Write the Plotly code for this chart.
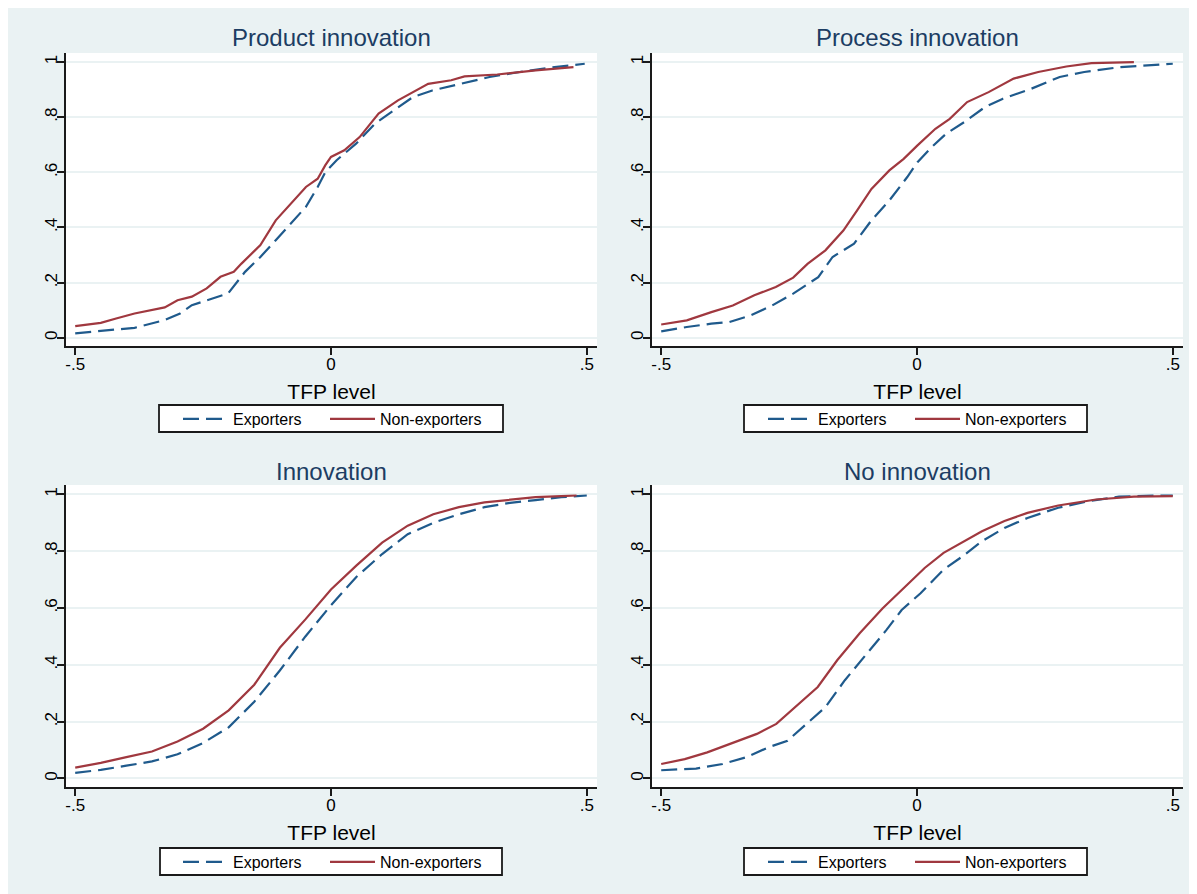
import plotly.graph_objects as go

W, H = 1197, 894

panel_titles = ["Product innovation", "Process innovation", "Innovation", "No innovation"]
series_names = ["Exporters", "Non-exporters"]
x_axis_title = "TFP level"
x_tick_vals = [-0.5, 0, 0.5]
x_tick_text = ["-.5", "0", ".5"]
y_tick_vals = [0, 0.2, 0.4, 0.6, 0.8, 1]
y_tick_text = ["0", ".2", ".4", ".6", ".8", "1"]

# ---- Product innovation ----
prod_exp_x = [-0.5, -0.42, -0.384, -0.325, -0.295, -0.272, -0.228, -0.201, -0.168, -0.138, -0.108,
              -0.078, -0.049, -0.026, -0.011, 0.011, 0.049, 0.086, 0.123, 0.16, 0.198, 0.25, 0.31,
              0.369, 0.437, 0.496]
prod_exp_y = [0.016, 0.028, 0.036, 0.064, 0.088, 0.118, 0.143, 0.161, 0.239, 0.293, 0.354,
              0.414, 0.475, 0.547, 0.601, 0.644, 0.704, 0.777, 0.825, 0.873, 0.897, 0.921, 0.946,
              0.964, 0.982, 0.994]
prod_non_x = [-0.5, -0.45, -0.42, -0.384, -0.325, -0.30, -0.272, -0.243, -0.216, -0.19, -0.175,
              -0.138, -0.108, -0.078, -0.049, -0.026, -0.011, 0.0, 0.026, 0.056, 0.093, 0.131,
              0.16, 0.19, 0.235, 0.261, 0.325, 0.40, 0.474]
prod_non_y = [0.042, 0.054, 0.07, 0.088, 0.11, 0.136, 0.149, 0.179, 0.221, 0.239, 0.269,
              0.336, 0.426, 0.487, 0.547, 0.577, 0.626, 0.656, 0.68, 0.728, 0.813, 0.861,
              0.891, 0.921, 0.934, 0.948, 0.955, 0.97, 0.982]

# ---- Process innovation ----
proc_exp_x = [-0.5, -0.45, -0.402, -0.367, -0.325, -0.283, -0.242, -0.193, -0.165, -0.123, -0.089,
              -0.054, -0.019, 0.001, 0.029, 0.057, 0.092, 0.133, 0.168, 0.223, 0.279, 0.327,
              0.397, 0.5]
proc_exp_y = [0.023, 0.039, 0.051, 0.057, 0.081, 0.117, 0.16, 0.22, 0.293, 0.341, 0.426,
              0.498, 0.583, 0.637, 0.692, 0.74, 0.782, 0.837, 0.867, 0.903, 0.946, 0.964,
              0.982, 0.994]
proc_non_x = [-0.5, -0.45, -0.402, -0.36, -0.318, -0.276, -0.242, -0.214, -0.179, -0.144, -0.117,
              -0.089, -0.054, -0.026, 0.001, 0.036, 0.064, 0.098, 0.14, 0.189, 0.237, 0.292,
              0.341, 0.424]
proc_non_y = [0.048, 0.063, 0.093, 0.117, 0.154, 0.184, 0.218, 0.268, 0.317, 0.389, 0.462,
              0.54, 0.607, 0.649, 0.698, 0.758, 0.794, 0.855, 0.891, 0.94, 0.964, 0.984,
              0.996, 1.0]

# ---- Innovation ----
inno_exp_x = [-0.5, -0.45, -0.4, -0.35, -0.3, -0.25, -0.2, -0.15, -0.1, -0.05, 0.0,
              0.05, 0.1, 0.15, 0.2, 0.25, 0.3, 0.35, 0.4, 0.45, 0.5]
inno_exp_y = [0.02, 0.03, 0.045, 0.06, 0.085, 0.125, 0.18, 0.27, 0.38, 0.5, 0.61,
              0.71, 0.79, 0.86, 0.9, 0.93, 0.955, 0.97, 0.98, 0.99, 0.996]
inno_non_x = [-0.5, -0.45, -0.4, -0.35, -0.3, -0.25, -0.2, -0.15, -0.1, -0.05, 0.0,
              0.05, 0.1, 0.15, 0.2, 0.25, 0.3, 0.35, 0.4, 0.45, 0.48]
inno_non_y = [0.038, 0.055, 0.075, 0.095, 0.13, 0.175, 0.24, 0.33, 0.46, 0.56, 0.665,
              0.75, 0.83, 0.89, 0.93, 0.955, 0.972, 0.982, 0.99, 0.994, 0.996]

# ---- No innovation ----
noin_exp_x = [-0.5, -0.432, -0.38, -0.335, -0.29, -0.253, -0.216, -0.179, -0.141, -0.097, -0.06,
              -0.03, 0.007, 0.052, 0.089, 0.127, 0.171, 0.216, 0.276, 0.335, 0.395, 0.462, 0.5]
noin_exp_y = [0.029, 0.035, 0.051, 0.074, 0.11, 0.133, 0.192, 0.251, 0.346, 0.44, 0.522,
              0.593, 0.652, 0.735, 0.782, 0.835, 0.882, 0.917, 0.953, 0.976, 0.992, 0.996, 0.996]
noin_non_x = [-0.5, -0.454, -0.41, -0.357, -0.313, -0.275, -0.231, -0.194, -0.156, -0.112, -0.067,
              -0.022, 0.015, 0.052, 0.097, 0.127, 0.171, 0.216, 0.276, 0.35, 0.424, 0.5]
noin_non_y = [0.051, 0.068, 0.092, 0.127, 0.157, 0.192, 0.263, 0.322, 0.416, 0.511, 0.599,
              0.676, 0.741, 0.794, 0.841, 0.87, 0.906, 0.935, 0.961, 0.982, 0.992, 0.994]

panels_data = [
    (prod_exp_x, prod_exp_y, prod_non_x, prod_non_y),
    (proc_exp_x, proc_exp_y, proc_non_x, proc_non_y),
    (inno_exp_x, inno_exp_y, inno_non_x, inno_non_y),
    (noin_exp_x, noin_exp_y, noin_non_x, noin_non_y),
]

# ---- layout geometry (figure pixels) ----
boxes = [(58, 589, 45, 338), (644, 1175, 45, 338), (58, 589, 477, 779), (644, 1175, 477, 779)]
title_y = [30, 30, 463, 463]
legend_frames = [(151, 495, 397, 424), (736, 1079, 397, 424), (152, 494, 840, 867), (736, 1079, 840, 867)]
legend_left = [170, 755, 170, 755]
legend_top = [394, 394, 837, 837]

BG = "#EAF2F3"
EXP_COL = "#1f5a8c"
NON_COL = "#a0383f"
AX_COL = "#1a1a1a"
FONT = "Liberation Sans, Arial, sans-serif"

fig = go.Figure()
legend_names = ["legend", "legend2", "legend3", "legend4"]

for i, (ex, ey, nx, ny) in enumerate(panels_data):
    xa = "x" if i == 0 else f"x{i+1}"
    ya = "y" if i == 0 else f"y{i+1}"
    fig.add_trace(go.Scatter(x=ex, y=ey, mode="lines", name=series_names[0],
                             line=dict(color=EXP_COL, width=2.2, dash="16px,7px"),
                             xaxis=xa, yaxis=ya, legend=legend_names[i], legendwidth=87))
    fig.add_trace(go.Scatter(x=nx, y=ny, mode="lines", name=series_names[1],
                             line=dict(color=NON_COL, width=2.2),
                             xaxis=xa, yaxis=ya, legend=legend_names[i], legendwidth=115))

layout = dict(
    width=W, height=H,
    margin=dict(l=0, r=0, t=0, b=0),
    paper_bgcolor=BG, plot_bgcolor="white",
    font=dict(family=FONT, color="black"),
    annotations=[], shapes=[],
)

for i, (l, r, t, b) in enumerate(boxes):
    sx = "xaxis" if i == 0 else f"xaxis{i+1}"
    sy = "yaxis" if i == 0 else f"yaxis{i+1}"
    ya = "y" if i == 0 else f"y{i+1}"
    xa = "x" if i == 0 else f"x{i+1}"
    layout[sx] = dict(
        domain=[l / W, r / W], range=[-0.518, 0.52], anchor=ya,
        tickmode="array", tickvals=x_tick_vals, ticktext=x_tick_text,
        ticks="outside", ticklen=7, tickwidth=1.5, tickcolor=AX_COL,
        ticklabelstandoff=-5,
        showline=True, linecolor=AX_COL, linewidth=1.5,
        showgrid=False, zeroline=False, fixedrange=True,
        tickfont=dict(size=17, family=FONT, color="black"),
        title=dict(text=x_axis_title, font=dict(size=21, family=FONT, color="black"), standoff=11),
    )
    layout[sy] = dict(
        domain=[1 - b / H, 1 - t / H], range=[-0.03, 1.033], anchor=xa,
        tickmode="array", tickvals=y_tick_vals, ticktext=y_tick_text, tickangle=-90,
        ticks="outside", ticklen=7, tickwidth=1.5, tickcolor=AX_COL,
        ticklabelstandoff=-7,
        showline=True, linecolor=AX_COL, linewidth=1.5,
        showgrid=True, gridcolor=BG, gridwidth=1.5, zeroline=False, fixedrange=True,
        tickfont=dict(size=17, family=FONT, color="black"),
    )
    cx = (l + r) / 2 / W
    layout["annotations"].append(dict(
        text=panel_titles[i], xref="paper", yref="paper", x=cx, y=1 - title_y[i] / H,
        xanchor="center", yanchor="middle", showarrow=False,
        font=dict(size=24, family=FONT, color="#1c3d63"),
    ))
    lx0, lx1, ly0, ly1 = legend_frames[i]
    layout["shapes"].append(dict(
        type="rect", xref="paper", yref="paper", x0=lx0 / W, x1=lx1 / W,
        y0=1 - ly1 / H, y1=1 - ly0 / H, fillcolor="white",
        line=dict(color=AX_COL, width=1.8), layer="above",
    ))
    layout[legend_names[i]] = dict(
        orientation="h", x=legend_left[i] / W, y=1 - legend_top[i] / H,
        xanchor="left", yanchor="top",
        bgcolor="rgba(0,0,0,0)", borderwidth=0,
        font=dict(size=16, family=FONT, color="black"),
        itemwidth=45,
    )

fig.update_layout(**layout)
fig.write_html("out.html")
